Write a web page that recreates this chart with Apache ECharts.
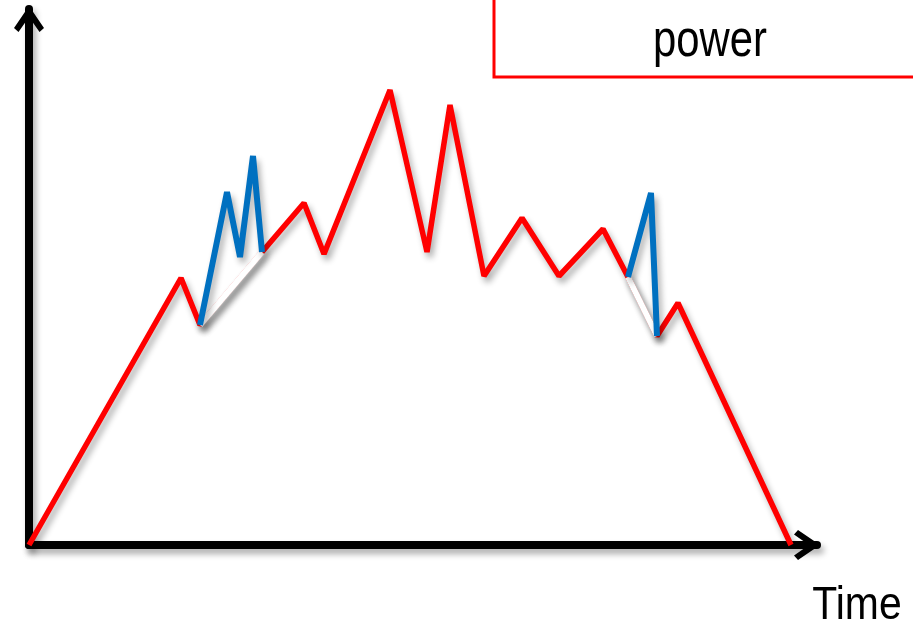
<!DOCTYPE html>
<html><head><meta charset="utf-8">
<script src="https://cdn.jsdelivr.net/npm/echarts@6/dist/echarts.min.js"></script>
<style>html,body{margin:0;padding:0;background:#fff}#c{width:913px;height:630px}</style>
</head><body><div id="c"></div>
<script>
// Power profile over time (arbitrary units)
const powerPoints = [
  [0,0],[152,267],[171,220],[233,293],[275,342],[295,291],[361,455],[398,293],
  [421,440],[455,269],[493,327],[530,269],[574,316],[599,268],[628,209],[649,242],[762,0]
];
// Peaks drawn in blue above the red profile
const peakPathA = [[171,220],[198,353],[211,288],[224,389],[233,293]];
const peakPathB = [[599,268],[622,352],[628,209]];
// Red segments masked by white where the blue peaks replace them
const maskedA = [[171,220],[233,293]];
const maskedB = [[599,268],[628,209]];
const legendLabel = 'power';
const xAxisLabel = 'Time';

const chevron = 'path://M15 0 L30 22 L25.5 26 L15 11 L4.5 26 L0 22 Z';
const shadow = {shadowColor:'rgba(0,0,0,0.32)', shadowBlur:6, shadowOffsetX:3, shadowOffsetY:5};

const chart = echarts.init(document.getElementById('c'), null, {renderer:'canvas'});
chart.setOption({
  animation:false,
  backgroundColor:'#ffffff',
  grid:{left:29, top:9, width:788, height:536, outerBoundsMode:'none', containLabel:false},
  xAxis:{type:'value', min:0, max:788,
    axisLine:{show:true, onZero:false, symbol:['none', chevron], symbolSize:[30,26], symbolOffset:[0,-10],
      lineStyle:Object.assign({color:'#000', width:8}, shadow)},
    axisTick:{show:false}, axisLabel:{show:false}, splitLine:{show:false}},
  yAxis:{type:'value', min:0, max:536,
    axisLine:{show:true, onZero:false, symbol:['none', chevron], symbolSize:[30,26], symbolOffset:[0,-10],
      lineStyle:Object.assign({color:'#000', width:8}, shadow)},
    axisTick:{show:false}, axisLabel:{show:false}, splitLine:{show:false}},
  series:[
    {type:'line', name:legendLabel, data:powerPoints, symbol:'none', z:3,
      lineStyle:Object.assign({color:'#ff0000', width:5.5, join:'bevel', cap:'butt'}, shadow)},
    {type:'line', data:maskedA, symbol:'none', z:4,
      lineStyle:Object.assign({color:'#ffffff', width:6}, shadow)},
    {type:'line', data:maskedB, symbol:'none', z:4,
      lineStyle:Object.assign({color:'#ffffff', width:6}, shadow)},
    {type:'line', data:peakPathA, symbol:'none', z:5,
      lineStyle:Object.assign({color:'#0070c0', width:6, join:'bevel', cap:'butt'}, shadow)},
    {type:'line', data:peakPathB, symbol:'none', z:5,
      lineStyle:Object.assign({color:'#0070c0', width:6, join:'bevel', cap:'butt'}, shadow)}
  ],
  graphic:[
    {type:'rect', shape:{x:494, y:-10, width:440, height:87}, style:{fill:'none', stroke:'#ff0000', lineWidth:3}, z:10},
    {type:'text', x:710, y:42, scaleX:0.805, z:11,
      style:{text:legendLabel, fill:'#000', font:'52px "Liberation Sans", Arial, sans-serif', textAlign:'center', textVerticalAlign:'middle'}},
    {type:'text', x:857, y:606, scaleX:0.87, z:11,
      style:{text:xAxisLabel, fill:'#000', font:'47px "Liberation Sans", Arial, sans-serif', textAlign:'center', textVerticalAlign:'middle'}}
  ]
});
</script>
</body></html>
